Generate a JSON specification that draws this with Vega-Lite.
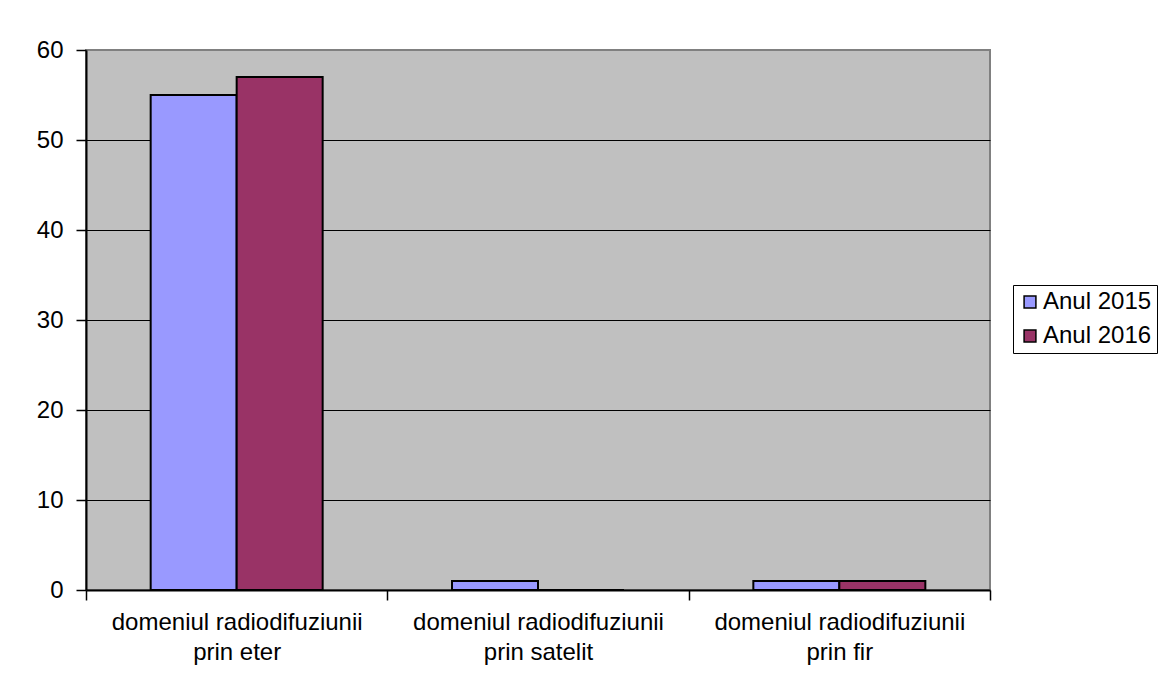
{
  "$schema": "https://vega.github.io/schema/vega-lite/v6.json",
  "width": 904,
  "height": 540,
  "autosize": {"type": "none"},
  "padding": {"left": 86, "top": 50, "right": 170, "bottom": 91},
  "background": "white",
  "config": {
    "font": "Liberation Sans",
    "view": {"fill": "#C0C0C0", "stroke": "#808080", "strokeWidth": 2}
  },
  "data": {
    "values": [
      {"categorie": "domeniul radiodifuziunii prin eter", "an": "Anul 2015", "valoare": 55},
      {"categorie": "domeniul radiodifuziunii prin eter", "an": "Anul 2016", "valoare": 57},
      {"categorie": "domeniul radiodifuziunii prin satelit", "an": "Anul 2015", "valoare": 1},
      {"categorie": "domeniul radiodifuziunii prin satelit", "an": "Anul 2016", "valoare": 0},
      {"categorie": "domeniul radiodifuziunii prin fir", "an": "Anul 2015", "valoare": 1},
      {"categorie": "domeniul radiodifuziunii prin fir", "an": "Anul 2016", "valoare": 1}
    ]
  },
  "mark": {"type": "bar", "stroke": "black", "strokeWidth": 2},
  "encoding": {
    "x": {
      "field": "categorie",
      "type": "nominal",
      "sort": null,
      "scale": {"paddingInner": 0, "paddingOuter": 0},
      "axis": {
        "title": null,
        "labelAngle": 0,
        "labelFontSize": 24,
        "labelColor": "black",
        "labelLimit": 400,
        "labelPadding": 10,
        "labelLineHeight": 30,
        "labelBaseline": "top",
        "labelExpr": "[slice(datum.label, 0, 24), slice(datum.label, 25)]",
        "tickBand": "extent",
        "tickSize": 10,
        "tickColor": "black",
        "tickWidth": 1.5,
        "domainColor": "black",
        "domainWidth": 2,
        "grid": false
      }
    },
    "xOffset": {"field": "an", "type": "nominal", "scale": {"paddingInner": 0, "paddingOuter": 0.752}},
    "y": {
      "field": "valoare",
      "type": "quantitative",
      "scale": {"domain": [0, 60], "nice": false},
      "axis": {
        "title": null,
        "values": [0, 10, 20, 30, 40, 50, 60],
        "labelFontSize": 24,
        "labelColor": "black",
        "labelPadding": 13,
        "tickSize": 10,
        "tickColor": "black",
        "tickWidth": 1.5,
        "domainColor": "black",
        "domainWidth": 2,
        "grid": true,
        "gridColor": {"condition": {"test": "datum.value == 60 || datum.value == 0", "value": "#808080"}, "value": "black"},
        "gridWidth": 1,
        "gridOpacity": 1
      }
    },
    "fill": {
      "field": "an",
      "type": "nominal",
      "scale": {"domain": ["Anul 2015", "Anul 2016"], "range": ["#9999FF", "#993366"]},
      "legend": {
        "title": null,
        "orient": "none",
        "legendX": 927,
        "legendY": 235,
        "symbolType": "square",
        "symbolSize": 140,
        "symbolStrokeColor": "black",
        "symbolStrokeWidth": 1.5,
        "labelFontSize": 24,
        "labelColor": "black",
        "labelOffset": 1,
        "rowPadding": 10,
        "padding": 5,
        "strokeColor": "black",
        "fillColor": "white"
      }
    }
  }
}
